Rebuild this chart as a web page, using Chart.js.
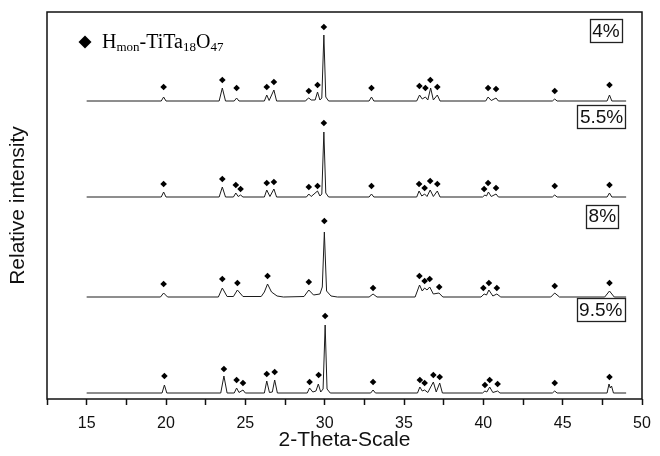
<!DOCTYPE html>
<html>
<head>
<meta charset="utf-8">
<script src="https://cdn.jsdelivr.net/npm/chart.js@4.4.1/dist/chart.umd.min.js"></script>
<style>
  html, body { margin: 0; padding: 0; background: #ffffff; }
  #wrap { width: 660px; height: 456px; }
</style>
</head>
<body>
<div id="wrap"><canvas id="c" width="660" height="456"></canvas></div>
<script>
// ---------- DATA ----------
const seriesNames = ['4%', '5.5%', '8%', '9.5%'];
// vertical offset of each pattern's baseline (arbitrary intensity units)
const offsets = [298, 202, 102, 6];

// traces: [2-theta, relative intensity above baseline]
const trace4 = [
  [15,0],
  [19.7,0],[19.85,4],[20.0,0],
  [23.35,0],[23.55,13],[23.75,0],
  [24.3,0],[24.45,3],[24.6,0],
  [26.2,0],[26.35,6],[26.5,0.5],[26.8,11],[26.97,0],
  [28.8,0],[28.9,2],[29.0,3],[29.15,1],[29.4,1],[29.55,9],[29.7,1],[29.82,3],[29.95,66],[30.07,4],[30.25,0],
  [32.8,0],[32.95,4],[33.1,0],
  [35.8,0],[35.98,6],[36.15,2],[36.35,4],[36.5,1],[36.68,13],[36.85,1],[37.1,6],[37.27,0],
  [40.15,0],[40.3,4],[40.5,0.5],[40.8,3],[40.95,0],
  [44.35,0],[44.5,2],[44.65,0],
  [47.8,0],[47.95,6],[48.1,0],
  [49,0]
];
const trace55 = [
  [15,0],
  [19.7,0],[19.85,5],[20.0,0],
  [23.35,0],[23.55,10],[23.75,0],
  [24.25,0],[24.4,4],[24.55,0.5],[24.7,2],[24.85,0],
  [26.2,0],[26.35,7],[26.55,0.5],[26.8,8],[26.97,0],
  [28.85,0],[29.0,3],[29.15,0.5],[29.55,6],[29.7,1],[29.82,3],[29.95,65],[30.07,4],[30.25,0],
  [32.8,0],[32.95,3],[33.1,0],
  [35.8,0],[35.95,6],[36.12,1],[36.3,3],[36.45,0.5],[36.65,7],[36.85,0.5],[37.1,6],[37.27,0],
  [39.95,0],[40.1,2],[40.2,1],[40.32,5],[40.5,0.5],[40.8,3],[40.95,0],
  [44.35,0],[44.5,2],[44.65,0],
  [47.8,0],[47.95,4],[48.1,0],
  [49,0]
];
const trace8 = [
  [15,0],
  [19.65,0],[19.85,4],[20.1,0],
  [23.3,0],[23.55,9],[23.85,0.5],
  [24.25,0.5],[24.5,7],[24.85,0.5],
  [26.0,0.5],[26.2,5],[26.4,13],[26.65,5],[27.0,1],[27.4,0],
  [28.7,0.5],[29.0,7],[29.3,2],[29.7,3],[29.85,10],[29.98,65],[30.12,6],[30.4,1],[30.8,0],
  [32.8,0],[33.05,3],[33.3,0],
  [35.7,0],[35.98,12],[36.15,6],[36.3,9],[36.45,7],[36.62,10],[36.85,3],[37.2,4],[37.45,0],
  [39.85,0],[40.05,3],[40.2,2],[40.35,7],[40.6,1],[40.85,3],[41.1,0],
  [44.25,0],[44.5,4],[44.8,0],
  [47.65,0],[47.95,6],[48.25,0],
  [49,0]
];
const trace95 = [
  [15,0],
  [19.75,0],[19.9,8],[20.05,0],
  [23.45,0],[23.65,17],[23.85,0],
  [24.3,0],[24.45,5],[24.6,0.5],[24.85,3],[25.0,0],
  [26.2,0],[26.35,12],[26.52,0.5],[26.7,1],[26.85,13],[27.02,0],
  [28.9,0],[29.05,5],[29.25,1],[29.45,2],[29.6,9],[29.75,1],[29.9,4],[30.03,68],[30.15,4],[30.35,0],
  [32.9,0],[33.05,3],[33.2,0],
  [35.85,0],[36.0,6],[36.15,2],[36.3,3],[36.5,0.5],[36.85,11],[37.03,1],[37.25,10],[37.42,0],
  [39.95,0],[40.1,2],[40.22,1],[40.4,6],[40.6,0.5],[40.9,2],[41.05,0],
  [44.35,0],[44.5,2],[44.65,0],
  [47.8,0],[47.92,9],[48.0,5],[48.08,7],[48.2,0],
  [49,0]
];

// diamond markers (H_mon-TiTa18O47 reflections): [2-theta, height above baseline]
const marks4 = [
  [19.85,14],[23.55,21],[24.45,13],[26.35,14],[26.8,19],[29.0,10],[29.55,16],[29.95,74],
  [32.95,13],[35.97,15],[36.35,13],[36.66,21],[37.1,14],[40.3,13],[40.8,12],[44.5,10],[47.95,16]
];
const marks55 = [
  [19.85,13],[23.55,18],[24.4,12],[24.7,8],[26.35,14],[26.8,15],[29.0,10],[29.55,11],[29.95,74],
  [32.95,11],[35.95,13],[36.3,9],[36.65,16],[37.1,13],[40.05,8],[40.3,14],[40.8,9],[44.5,11],[47.95,12]
];
const marks8 = [
  [19.85,13],[23.55,18],[24.5,14],[26.4,21],[29.0,15],[29.98,76],
  [33.05,9],[35.97,21],[36.3,16],[36.62,18],[37.22,10],[40.0,9],[40.35,14],[40.85,9],[44.5,11],[47.95,14]
];
const marks95 = [
  [19.9,17],[23.65,24],[24.45,13],[24.85,10],[26.35,19],[26.85,21],[29.05,11],[29.62,18],[30.03,77],
  [33.05,11],[36.0,13],[36.3,10],[36.85,18],[37.25,16],[40.1,8],[40.4,13],[40.9,9],[44.5,10],[47.95,16]
];

const traces = [trace4, trace55, trace8, trace95];
const marks = [marks4, marks55, marks8, marks95];

// axis ticks
const xTicks = [12.5,15,17.5,20,22.5,25,27.5,30,32.5,35,37.5,40,42.5,45,47.5,50];
const xLabeled = [15,20,25,30,35,40,45,50];
const xTitle = '2-Theta-Scale';
const yTitle = 'Relative intensity';

// ---------- CHART ----------
const datasets = [];
traces.forEach((t, i) => {
  datasets.push({
    type: 'line',
    label: seriesNames[i],
    data: t.map(([x, y]) => ({ x: x, y: y + offsets[i] })),
    borderColor: '#1c1c1c',
    borderWidth: 1,
    pointRadius: 0,
    tension: 0,
    fill: false
  });
});
marks.forEach((m, i) => {
  datasets.push({
    type: 'scatter',
    label: seriesNames[i] + ' markers',
    data: m.map(([x, y]) => ({ x: x, y: y + offsets[i] })),
    pointStyle: 'rectRot',
    pointRadius: 3.3,
    backgroundColor: '#000',
    borderColor: '#000',
    borderWidth: 0,
    showLine: false
  });
});

const framePlugin = {
  id: 'frame',
  afterDraw(chart) {
    const { ctx, chartArea: a, scales } = chart;
    ctx.save();
    ctx.strokeStyle = '#111';
    ctx.lineWidth = 1.5;
    ctx.strokeRect(a.left, a.top, a.right - a.left, a.bottom - a.top);

    // sample labels in boxes
    const lp = chart.options.plugins.frame.labels;
    ctx.font = '19px "Liberation Sans", Arial, sans-serif';
    ctx.textAlign = 'center';
    ctx.textBaseline = 'middle';
    seriesNames.forEach((name, i) => {
      const cx = scales.x.getPixelForValue(lp.x[i]);
      const cy = scales.y.getPixelForValue(lp.y[i]);
      const w = ctx.measureText(name).width + 5;
      const h = 23;
      ctx.fillStyle = '#fff';
      ctx.fillRect(cx - w / 2, cy - h / 2, w, h);
      ctx.lineWidth = 1.3;
      ctx.strokeStyle = '#222';
      ctx.strokeRect(Math.round(cx - w / 2) + 0.5, Math.round(cy - h / 2) + 0.5, Math.round(w), h);
      ctx.fillStyle = '#111';
      ctx.fillText(name, cx, cy + 1);
    });

    // legend: diamond + H_mon-TiTa18O47
    const lg = chart.options.plugins.frame.legend;
    ctx.fillStyle = '#000';
    ctx.beginPath();
    ctx.moveTo(lg.x, lg.y - 6.5);
    ctx.lineTo(lg.x + 6.5, lg.y);
    ctx.lineTo(lg.x, lg.y + 6.5);
    ctx.lineTo(lg.x - 6.5, lg.y);
    ctx.closePath();
    ctx.fill();
    const parts = [['H', 0], ['mon', 1], ['-TiTa', 0], ['18', 1], ['O', 0], ['47', 1]];
    let tx = lg.x + 17;
    const base = lg.y + 6;
    ctx.textAlign = 'left';
    ctx.textBaseline = 'alphabetic';
    parts.forEach(([s, sub]) => {
      ctx.font = sub ? '13px "Liberation Serif", "Times New Roman", serif'
                     : '20px "Liberation Serif", "Times New Roman", serif';
      ctx.fillText(s, tx, sub ? base + 3 : base);
      tx += ctx.measureText(s).width;
    });
    ctx.restore();
  }
};

new Chart(document.getElementById('c'), {
  data: { datasets: datasets },
  plugins: [framePlugin],
  options: {
    responsive: false,
    animation: false,
    layout: { padding: { top: 12, right: 18, left: 0, bottom: 0 } },
    plugins: {
      legend: { display: false },
      tooltip: { enabled: false },
      frame: {
        labels: { x: [47.73, 47.45, 47.5, 47.4], y: [368.5, 282.5, 183, 89.5] },
        legend: { x: 85, y: 42 }
      }
    },
    scales: {
      x: {
        type: 'linear',
        min: 12.5,
        max: 50,
        afterBuildTicks: (s) => { s.ticks = xTicks.map(v => ({ value: v })); },
        afterFit: (s) => { s.height = 57; },
        ticks: {
          autoSkip: false,
          maxRotation: 0,
          padding: 9,
          color: '#111',
          font: { family: '"Liberation Sans", Arial, sans-serif', size: 16 },
          callback: (v) => xLabeled.includes(v) ? String(v) : ''
        },
        grid: { display: true, drawOnChartArea: false, drawTicks: true, tickLength: 6, tickColor: '#111', tickWidth: 1.5 },
        border: { display: false },
        title: {
          display: true,
          text: xTitle,
          color: '#111',
          font: { family: '"Liberation Sans", Arial, sans-serif', size: 21 },
          padding: { top: 0, bottom: 3 }
        }
      },
      y: {
        type: 'linear',
        min: 0,
        max: 387,
        afterFit: (s) => { s.width = 47; },
        ticks: { display: false },
        grid: { display: false },
        border: { display: false },
        title: {
          display: true,
          text: yTitle,
          color: '#111',
          font: { family: '"Liberation Sans", Arial, sans-serif', size: 21 },
          padding: { top: 6, bottom: 0 }
        }
      }
    }
  }
});
</script>
</body>
</html>
